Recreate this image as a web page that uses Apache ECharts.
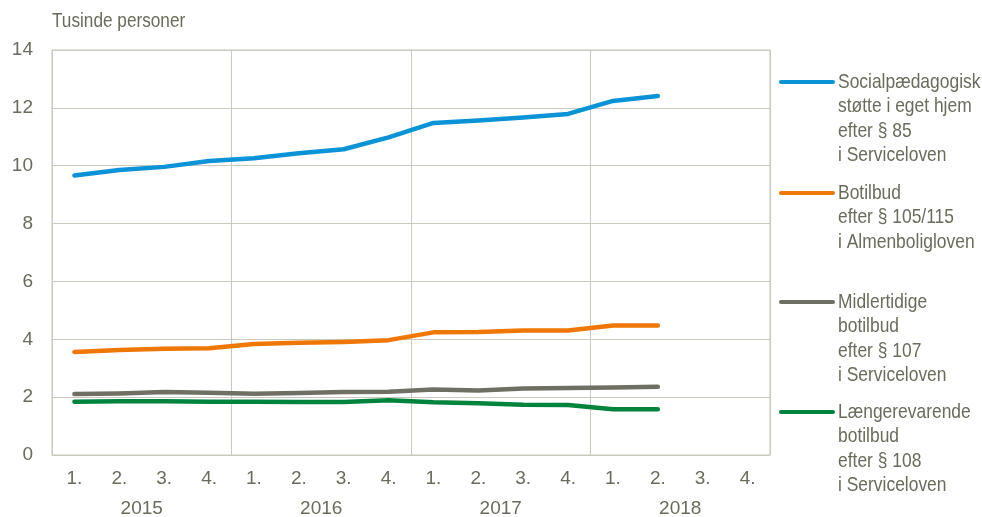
<!DOCTYPE html>
<html><head><meta charset="utf-8">
<script src="https://cdn.jsdelivr.net/npm/echarts@6/dist/echarts.min.js"></script>
<style>html,body{margin:0;padding:0;background:#fff}#c{width:982px;height:517px}</style>
</head><body><div id="c"></div>
<script>
const quarters = ['1.','2.','3.','4.','1.','2.','3.','4.','1.','2.','3.','4.','1.','2.','3.','4.'];
const years = ['2015','2016','2017','2018'];
const yTicks = [0,2,4,6,8,10,12,14];
const names = [
  'Socialpædagogisk\nstøtte i eget hjem\nefter § 85\ni Serviceloven',
  'Botilbud\nefter § 105/115\ni Almenboligloven',
  'Midlertidige\nbotilbud\nefter § 107\ni Serviceloven',
  'Længerevarende\nbotilbud\nefter § 108\ni Serviceloven'
];
const colors = ['#0a93d6','#ee7705','#6f6f63','#00843d'];
const socialpaed = [9.66,9.85,9.96,10.16,10.26,10.43,10.57,10.98,11.48,11.56,11.67,11.79,12.24,12.41];
const botilbud = [3.56,3.63,3.67,3.69,3.84,3.88,3.91,3.97,4.24,4.25,4.30,4.30,4.48,4.48];
const midlertidige = [2.11,2.13,2.18,2.15,2.12,2.14,2.18,2.19,2.26,2.23,2.30,2.32,2.33,2.36];
const laengere = [1.84,1.86,1.86,1.84,1.84,1.83,1.83,1.89,1.82,1.79,1.74,1.73,1.58,1.58];
const seriesData = [socialpaed, botilbud, midlertidige, laengere];
const legendTops = [82, 193, 302, 412];

const FF = '"Liberation Sans", Arial, sans-serif';
const txt = '#6b6b5c';
const gridC = '#c9c9bd';
const chart = echarts.init(document.getElementById('c'));
const graphics = [{type:'text', x:52, y:11, scaleX:0.86,
  style:{x:0, y:0, text:'Tusinde personer', font:'20px ' + FF, fill:txt, verticalAlign:'top'}}];
names.forEach((n,i)=>{
  graphics.push({type:'line', shape:{x1:781,y1:legendTops[i],x2:833,y2:legendTops[i]}, style:{stroke:colors[i], lineWidth:4, lineCap:'round'}});
  graphics.push({type:'text', x:838, y:legendTops[i]-12, scaleX:0.83,
    style:{x:0, y:0, text:n, font:'21px ' + FF, fill:txt, lineHeight:24.3, verticalAlign:'top'}});
});
chart.setOption({
  animation:false,
  grid:{left:52,right:212,top:50,bottom:62,show:true,borderColor:gridC,borderWidth:1,outerBoundsMode:'none',containLabel:false},
  xAxis:[
    {type:'category', data:quarters, boundaryGap:true,
     axisLine:{lineStyle:{color:gridC}}, axisTick:{show:false},
     axisLabel:{color:txt, fontSize:19, margin:14, fontFamily:FF}, splitLine:{show:false}},
    {type:'category', data:years, position:'bottom', offset:30, boundaryGap:true,
     axisLine:{show:false}, axisTick:{show:false},
     axisLabel:{color:txt, fontSize:19, margin:14, fontFamily:FF},
     splitLine:{show:true, interval:0, lineStyle:{color:gridC}}}
  ],
  yAxis:{type:'value', min:yTicks[0], max:yTicks[yTicks.length-1], interval:2,
    axisLine:{show:true, lineStyle:{color:gridC}}, axisTick:{show:false},
    axisLabel:{color:txt, fontSize:19, margin:19, fontFamily:FF},
    splitLine:{lineStyle:{color:gridC}}},
  series: seriesData.map((d,i)=>({type:'line', name:names[i], data:d, xAxisIndex:0, symbol:'none',
    lineStyle:{color:colors[i], width:4.5, cap:'round', join:'round'}, itemStyle:{color:colors[i]}})),
  graphic: graphics
});
</script></body></html>
